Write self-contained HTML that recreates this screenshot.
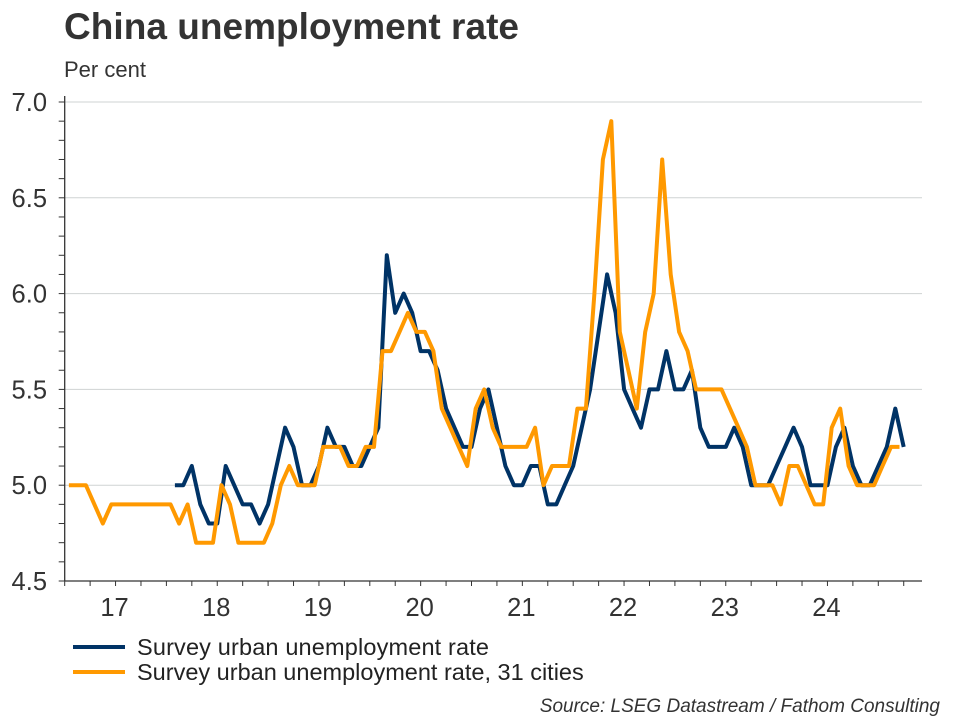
<!DOCTYPE html>
<html><head><meta charset="utf-8"><style>
body{margin:0;background:#fff;}
svg{display:block;font-family:"Liberation Sans",Arial,sans-serif;}
</style></head><body>
<svg id="chart" width="960" height="720" viewBox="0 0 960 720">
<text x="64" y="39" font-size="37" font-weight="bold" fill="#333" textLength="455">China unemployment rate</text>
<text x="64" y="77" font-size="22" fill="#333">Per cent</text>
<g id="grid"></g><g id="axes"></g><g id="series"></g>
<g>
<line x1="73" y1="647" x2="125" y2="647" stroke="#003366" stroke-width="4"/>
<text x="137" y="655" font-size="23.5" fill="#222" textLength="352">Survey urban unemployment rate</text>
<line x1="73" y1="672" x2="125" y2="672" stroke="#FF9900" stroke-width="4"/>
<text x="137" y="680" font-size="23.5" fill="#222">Survey urban unemployment rate, 31 cities</text>
</g>
<text x="940" y="712" font-size="19" font-style="italic" fill="#333" text-anchor="end">Source: LSEG Datastream / Fathom Consulting</text>
</svg>
<script>
const yearLabels = ["17","18","19","20","21","22","23","24"];
const yTicks = [4.5,5.0,5.5,6.0,6.5,7.0];
// monthly from Jan 2017
const urban = [null,null,null,null,null,null,null,null,null,null,null,null,
5.0,5.0,5.1,4.9,4.8,4.8,5.1,5.0,4.9,4.9,4.8,4.9,
5.1,5.3,5.2,5.0,5.0,5.1,5.3,5.2,5.2,5.1,5.1,5.2,
5.3,6.2,5.9,6.0,5.9,5.7,5.7,5.6,5.4,5.3,5.2,5.2,
5.4,5.5,5.3,5.1,5.0,5.0,5.1,5.1,4.9,4.9,5.0,5.1,
5.3,5.5,5.8,6.1,5.9,5.5,5.4,5.3,5.5,5.5,5.7,5.5,
5.5,5.6,5.3,5.2,5.2,5.2,5.3,5.2,5.0,5.0,5.0,5.1,
5.2,5.3,5.2,5.0,5.0,5.0,5.2,5.3,5.1,5.0,5.0,5.1,
5.2,5.4,5.2];
const cities31 = [5.0,5.0,5.0,4.9,4.8,4.9,4.9,4.9,4.9,4.9,4.9,4.9,
4.9,4.8,4.9,4.7,4.7,4.7,5.0,4.9,4.7,4.7,4.7,4.7,
4.8,5.0,5.1,5.0,5.0,5.0,5.2,5.2,5.2,5.1,5.1,5.2,
5.2,5.7,5.7,5.8,5.9,5.8,5.8,5.7,5.4,5.3,5.2,5.1,
5.4,5.5,5.3,5.2,5.2,5.2,5.2,5.3,5.0,5.1,5.1,5.1,
5.4,5.4,6.0,6.7,6.9,5.8,5.6,5.4,5.8,6.0,6.7,6.1,
5.8,5.7,5.5,5.5,5.5,5.5,5.4,5.3,5.2,5.0,5.0,5.0,
4.9,5.1,5.1,5.0,4.9,4.9,5.3,5.4,5.1,5.0,5.0,5.0,
5.1,5.2,5.2];
const X0=64.7, MW=8.475, XR=922, YT=102, YB=581;
const xs = m => X0 + m*MW;
const ys = v => YB - (v-4.5)/2.5*(YB-YT);
const NS="http://www.w3.org/2000/svg";
function mk(tag, attrs, parent){const e=document.createElementNS(NS,tag);for(const k in attrs)e.setAttribute(k,attrs[k]);parent.appendChild(e);return e;}
const grid=document.getElementById('grid'), axes=document.getElementById('axes'), ser=document.getElementById('series');
yTicks.forEach(v=>{
  if(v>4.5){const g=mk('line',{x1:X0,x2:XR,y1:ys(v),y2:ys(v),stroke:'#cfd3d3','stroke-width':1},grid);
  
  }
  const t=mk('text',{x:47,y:ys(v)+9,'font-size':25.5,fill:'#333','text-anchor':'end'},axes);
  t.textContent=v.toFixed(1);
  
  
});
for(let k=0;k<=25;k++){const v=4.5+k*0.1;
  const tk=mk('line',{x1:X0-6,x2:X0,y1:ys(v),y2:ys(v),stroke:'#333','stroke-width':1},axes);
  
  }
const ya=mk('line',{x1:X0,x2:X0,y1:96,y2:YB,stroke:'#333','stroke-width':1.3},axes);


const xa=mk('line',{x1:X0,x2:XR,y1:YB,y2:YB,stroke:'#333','stroke-width':1.3},axes);


for(let q=0;q*3*MW<=XR-X0;q++){
  const tk=mk('line',{x1:xs(q*3),x2:xs(q*3),y1:YB,y2:YB+5,stroke:'#333','stroke-width':1},axes);
  
  }
yearLabels.forEach((l,i)=>{
  const t=mk('text',{x:xs(i*12+6)-1,y:YB+35,'font-size':25.5,fill:'#333','text-anchor':'middle'},axes);
  t.textContent=l;
  
  });
function line(data,off,color,name){
  let d='';data.forEach((v,i)=>{if(v==null)return;d+=(d?'L':'M')+xs(i+off).toFixed(1)+','+ys(v).toFixed(1);});
  const p=mk('path',{d:d,fill:'none',stroke:color,'stroke-width':4,'stroke-linejoin':'round'},ser);
  
  
}
line(urban,1,'#003366','series-urban-line');
line(cities31,0.5,'#FF9900','series-31-cities-line');
</script>
</body></html>
